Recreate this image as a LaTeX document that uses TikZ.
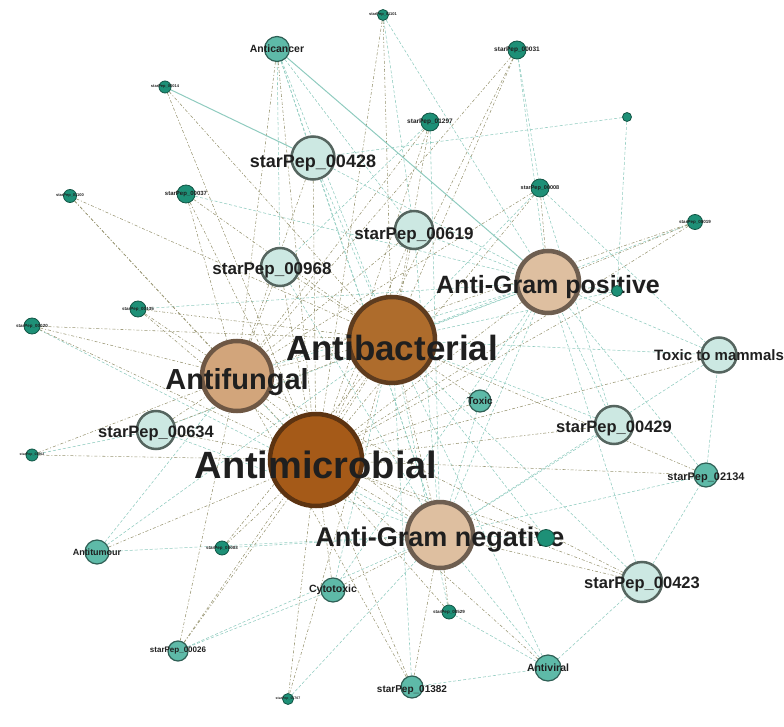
\documentclass[tikz,border=0pt]{standalone}
\usepackage{fontspec}
\setmainfont{Liberation Sans}
\usepackage{xcolor}
\usetikzlibrary{backgrounds}
\definecolor{amicfill}{HTML}{A55A18}
\definecolor{amicline}{HTML}{5C3311}
\definecolor{abacfill}{HTML}{AE6C2C}
\definecolor{abacline}{HTML}{5E3C1F}
\definecolor{afunfill}{HTML}{D2A57B}
\definecolor{afunline}{HTML}{6E5744}
\definecolor{gramfill}{HTML}{DEBFA0}
\definecolor{gramline}{HTML}{6E5E50}
\definecolor{midfill}{HTML}{CCE8E2}
\definecolor{midline}{HTML}{55655F}
\definecolor{smfill}{HTML}{5EBAA8}
\definecolor{smline}{HTML}{2F5F55}
\definecolor{tinyfill}{HTML}{1E9077}
\definecolor{tinyline}{HTML}{135545}
\definecolor{tealedge}{HTML}{8FCBBF}
\definecolor{oliveedge}{HTML}{979470}
\newcommand\lblfont[1]{\fontsize{#1}{#1}\selectfont\bfseries}

\begin{document}
\begin{tikzpicture}[x=1pt, y=-1pt,
  bignode/.style 2 args={circle, inner sep=0pt, line width=4.5pt, fill=#1, draw=#2},
  midnode/.style={circle, inner sep=0pt, line width=2.5pt, fill=midfill, draw=midline, minimum size=#1},
  smnode/.style={circle, inner sep=0pt, line width=1.2pt, fill=smfill, draw=smline, minimum size=#1},
  tinynode/.style={circle, inner sep=0pt, line width=0.8pt, fill=tinyfill, draw=tinyline, minimum size=#1},
  lab/.style={font=\lblfont{#1}, text=black!88, inner sep=0pt},
  tedge/.style={draw=tealedge, line width=0.55pt, dash pattern=on 3pt off 2pt},
  oedge/.style={draw=oliveedge, line width=0.55pt, dash pattern=on 3pt off 2pt on 1pt off 2pt},
  tsolid/.style={draw=tealedge, line width=1pt}]
  \useasboundingbox (0,0) rectangle (784,727);

  % hubs
  \node[bignode={amicfill}{amicline}, minimum size=92pt, label={[lab=38, yshift=-5pt]center:Antimicrobial}] (amic) at (316,460) {};
  \node[bignode={abacfill}{abacline}, minimum size=86pt, label={[lab=35, yshift=-8pt]center:Antibacterial}] (abac) at (392,340) {};
  \node[bignode={afunfill}{afunline}, minimum size=70pt, label={[lab=29, yshift=-6pt]center:Antifungal}] (afun) at (237,376) {};
  \node[bignode={gramfill}{gramline}, minimum size=62pt, label={[lab=25, yshift=-5pt]center:Anti-Gram positive}] (agp) at (548,282) {};
  \node[bignode={gramfill}{gramline}, minimum size=66pt, label={[lab=27, yshift=-5pt]center:Anti-Gram negative}] (agn) at (440,535) {};

  % peptides and activities
  \node[midnode=43pt, label={[lab=18, yshift=-5pt]center:starPep\_00428}] (p428) at (313,158) {};
  \node[midnode=38pt, label={[lab=17, yshift=-5pt]center:starPep\_00619}] (p619) at (414,230) {};
  \node[midnode=38pt, label={[lab=17, yshift=-3pt, xshift=-8pt]center:starPep\_00968}] (p968) at (280,267) {};
  \node[midnode=38pt, label={[lab=16.5, yshift=-3pt]center:starPep\_00634}] (p634) at (156,430) {};
  \node[midnode=38pt, label={[lab=16.5, yshift=-3pt]center:starPep\_00429}] (p429) at (614,425) {};
  \node[midnode=40pt, label={[lab=16.5, yshift=-2pt]center:starPep\_00423}] (p423) at (642,582) {};
  \node[midnode=35pt, label={[lab=15]center:Toxic to mammals}] (toxm) at (719,355) {};

  \node[smnode=25pt, label={[lab=10.5]center:Anticancer}] (acan) at (277,49) {};
  \node[smnode=22pt, label={[lab=10]center:Toxic}] (toxic) at (480,401) {};
  \node[smnode=24pt, label={[lab=11, yshift=-3pt]center:starPep\_02134}] (p2134) at (706,475) {};
  \node[smnode=26pt, label={[lab=10.5]center:Antiviral}] (avir) at (548,668) {};
  \node[smnode=24pt, label={[lab=10.5]center:Cytotoxic}] (cyto) at (333,590) {};
  \node[smnode=24pt, label={[lab=9]center:Antitumour}] (atum) at (97,552) {};
  \node[smnode=20pt, label={[lab=8]center:starPep\_00026}] (p26) at (178,651) {};
  \node[smnode=22pt, label={[lab=10, yshift=-3pt]center:starPep\_01382}] (p1382) at (412,687) {};

  \node[tinynode=11pt, label={[lab=4]center:starPep\_01101}] (p1101) at (383,15) {};
  \node[tinynode=12pt, label={[lab=4]center:starPep\_00014}] (p14) at (165,87) {};
  \node[tinynode=18pt, label={[lab=6.5]center:starPep\_00031}] (p31) at (517,50) {};
  \node[tinynode=18pt, label={[lab=6.5]center:starPep\_01297}] (p1297) at (430,122) {};
  \node[tinynode=9pt] (p5) at (627,117) {};
  \node[tinynode=18pt, label={[lab=5.5]center:starPep\_00008}] (p8) at (540,188) {};
  \node[tinynode=13pt, label={[lab=4]center:starPep\_01100}] (p1100) at (70,196) {};
  \node[tinynode=18pt, label={[lab=6]center:starPep\_00037}] (p37) at (186,194) {};
  \node[tinynode=15pt, label={[lab=4.5]center:starPep\_00019}] (p19) at (695,222) {};
  \node[tinynode=16pt, label={[lab=4.5]center:starPep\_00135}] (p135) at (138,309) {};
  \node[tinynode=16pt, label={[lab=4.5]center:starPep\_00020}] (p20) at (32,326) {};
  \node[tinynode=12pt, label={[lab=3.5]center:starPep\_01002}] (p1002) at (32,455) {};
  \node[tinynode=14pt, label={[lab=4.5]center:starPep\_00003}] (p3) at (222,548) {};
  \node[tinynode=17pt] (p14b) at (546,538) {};
  \node[tinynode=14pt, label={[lab=4.5]center:starPep\_00529}] (p529) at (449,612) {};
  \node[tinynode=11pt, label={[lab=3.5]center:starPep\_01707}] (p1707) at (288,699) {};
  \node[tinynode=11pt] (p17) at (617,291) {};

  \begin{pgfonlayer}{background}
    % edges between the hubs
    \foreach \a/\b in {amic/abac, amic/agp, amic/agn, abac/afun, abac/agn, afun/agn}
      \draw[oedge] (\a) -- (\b);
    \foreach \a/\b in {amic/afun, abac/agp, afun/agp, agp/agn}
      \draw[tedge] (\a) -- (\b);
    % teal edges
    \foreach \a/\b in {acan/p428, acan/abac, acan/p968, acan/agn, acan/p619,
        p1101/p619, p1101/agp, p31/agp, p31/p8, p1297/agn, p1297/p968,
        p5/p428, p5/p17, p8/p429, p8/toxm, p8/abac, p37/agp, p19/abac,
        p135/agp, p20/agn, p1002/p634, p634/agn, p634/agp, atum/agn, atum/abac,
        p3/agn, p26/cyto, p26/agn, p1707/agn, cyto/agp, cyto/abac, p529/abac,
        p1382/avir, p1382/abac, avir/agn, avir/p423, avir/p529, avir/abac,
        p423/agp, p423/p2134, p423/abac, p2134/toxm, p2134/agp, p2134/agn,
        p429/agp, p429/agn, toxm/agp, toxm/abac, toxm/agn, toxic/agp, toxic/agn,
        p14b/agn, p14b/abac, p17/agp, p17/abac, p428/agp, p428/agn, p619/agp,
        p619/agn, p968/agn, p428/abac, p429/abac, atum/afun}
      \draw[tedge] (\a) -- (\b);
    % olive edges
    \foreach \a/\b in {acan/amic, acan/afun, p1101/amic, p1101/abac, p14/amic,
        p14/abac, p31/abac, p31/amic, p31/afun, p1297/amic, p1297/abac,
        p1297/afun, p8/amic, p8/agp, p8/afun, p1100/amic, p1100/afun,
        p1100/abac, p37/amic, p37/abac, p37/afun, p19/amic, p19/afun, p19/agp,
        p135/amic, p135/abac, p135/afun, p20/amic, p20/afun, p20/abac,
        p1002/amic, p1002/afun, p634/amic, p634/afun, p634/abac, atum/amic,
        p3/amic, p3/abac, p26/amic, p26/abac, p26/afun, p1707/amic, p1707/abac,
        cyto/amic, cyto/agn, p529/amic, p529/agn, p1382/amic, p1382/agn,
        p1382/afun, avir/amic, p423/amic, p423/agn, p423/afun, p2134/abac,
        p2134/amic, p429/amic, toxm/amic, toxic/amic, toxic/abac, p14b/amic,
        p17/amic, p428/amic, p428/afun, p619/amic, p619/abac, p619/afun,
        p968/amic, p968/abac, p968/afun}
      \draw[oedge] (\a) -- (\b);
    \draw[tsolid] (acan) -- (agp);
    \draw[tsolid] (p14) -- (p428);
  \end{pgfonlayer}
\end{tikzpicture}
\end{document}
